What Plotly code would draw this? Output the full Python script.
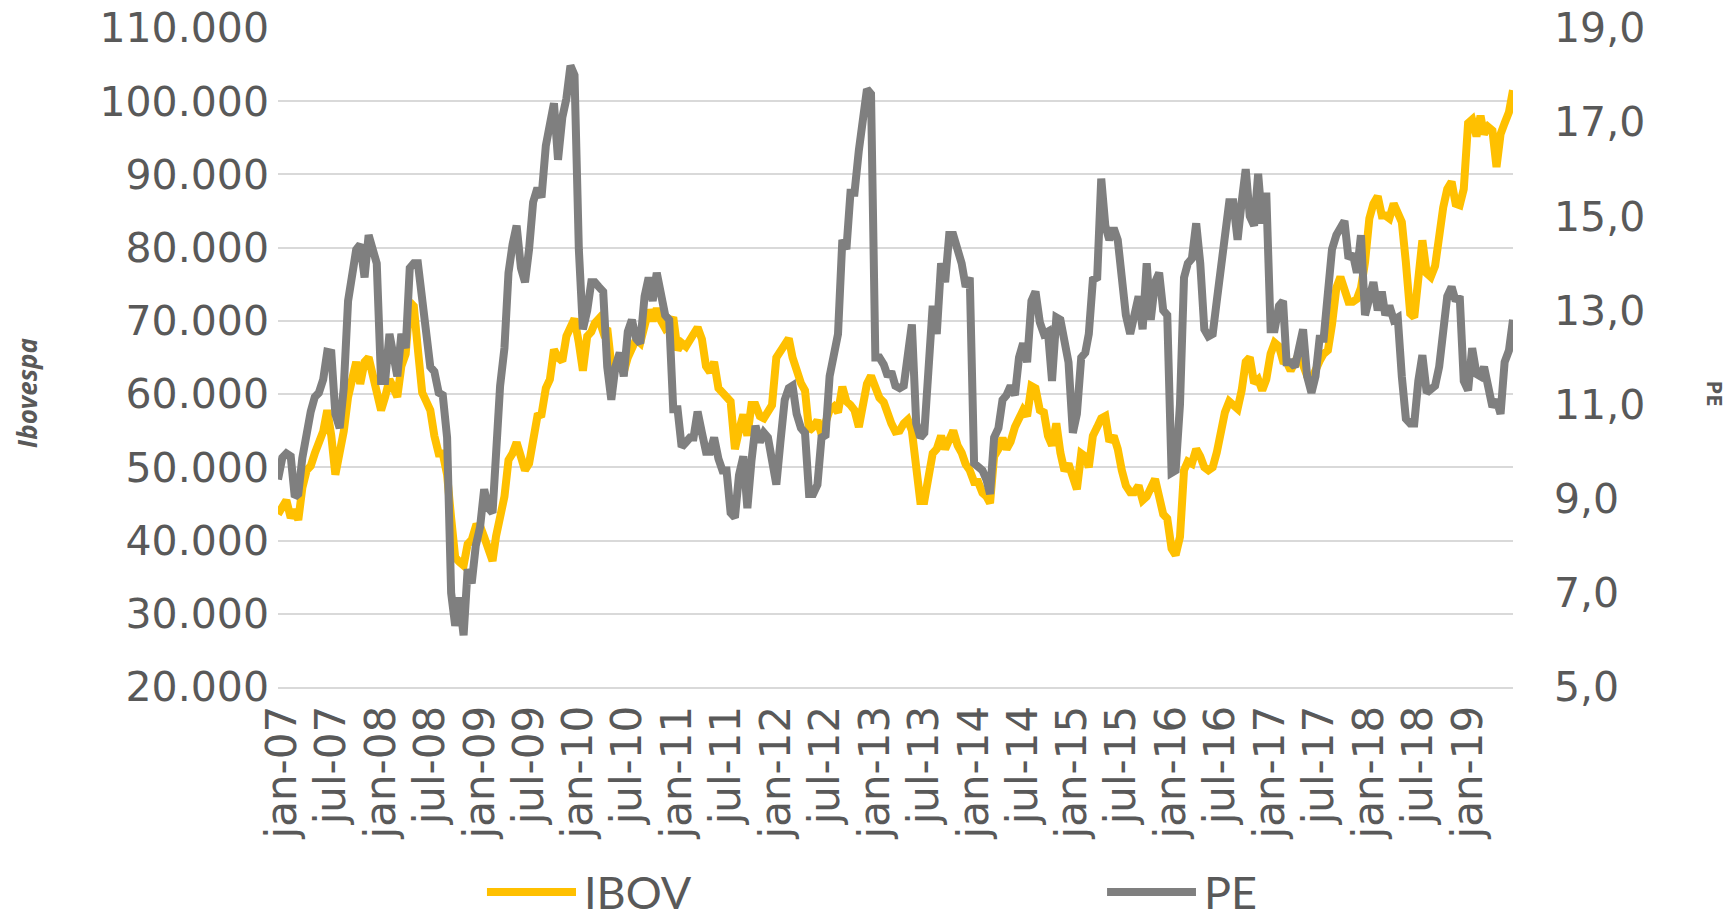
import plotly.graph_objects as go

# semi-monthly sample dates (1st and 16th of each month), Dec 2006 - Jun 2019
DATES = ["2006-12-16"] + [
    f"{y}-{m:02d}-{d:02d}" for y in range(2007, 2020) for m in range(1, 13) for d in (1, 16)
]
DATES = DATES[:301]

IBOV = [
    43.6, 44.8, 45.5, 43.1, 44.2, 42.8, 47.2, 49.6, 50.2, 51.9,
    53.4, 54.9, 57.8, 54.3, 49.0, 51.9, 54.9, 59.6, 62.6, 64.4,
    61.4, 64.4, 65.0, 62.6, 60.8, 57.8, 59.6, 62.0, 60.8, 59.6,
    63.8, 65.5, 72.6, 72.0, 66.1, 60.2, 59.0, 57.8, 54.3, 51.9,
    51.9, 49.0, 43.1, 37.7, 37.1, 36.6, 39.5, 40.1, 41.9, 42.0,
    40.5, 38.5, 37.2, 40.6, 43.6, 46.0, 51.0, 51.9, 53.4, 51.5,
    49.6, 50.5, 54.0, 57.0, 57.2, 60.8, 62.0, 66.1, 65.0, 64.5,
    67.9, 69.1, 70.3, 67.0, 63.2, 67.9, 68.5, 69.7, 70.3, 68.5,
    69.0, 64.0, 63.5, 64.0, 63.0, 65.0, 66.0, 67.5, 67.0, 69.0,
    71.5, 70.0, 71.7, 70.0, 69.0, 69.5, 70.5, 66.0, 67.0, 66.5,
    67.5, 68.5, 69.1, 67.5, 63.8, 63.0, 64.4, 60.8, 60.0, 59.6,
    59.0, 52.5, 55.0, 57.2, 54.3, 58.5, 58.5, 57.0, 56.7, 57.5,
    58.5, 65.0, 66.0, 67.0, 67.6, 65.0, 63.0, 61.5, 60.5, 55.0,
    55.5, 56.4, 54.5, 56.0, 57.8, 58.3, 57.5, 61.0, 59.0, 58.5,
    57.8, 55.5, 58.4, 61.4, 62.5, 61.0, 59.5, 58.9, 57.0, 56.0,
    54.9, 55.0, 56.0, 56.5, 55.0, 49.6, 45.4, 45.4, 48.0, 51.9,
    52.5, 54.3, 52.5, 54.0, 55.0, 53.0, 52.0, 50.4, 49.6, 48.0,
    48.0, 46.5, 46.0, 45.1, 51.5, 52.5, 54.0, 52.5, 53.5, 55.5,
    56.5, 57.8, 57.0, 61.1, 60.8, 57.8, 57.5, 54.3, 53.0, 56.0,
    52.0, 49.5, 50.5, 48.5, 47.0, 51.9, 51.5, 50.0, 54.3, 55.5,
    56.7, 57.0, 53.5, 54.3, 52.5, 49.6, 47.5, 46.6, 46.6, 47.5,
    45.5, 46.0, 47.0, 48.4, 46.0, 43.6, 43.0, 38.9, 38.0, 40.5,
    49.6, 50.8, 50.5, 52.5, 51.5, 50.0, 49.6, 50.0, 52.0, 55.0,
    57.5, 59.0, 58.5, 58.0, 60.5, 64.4, 65.0, 61.5, 62.0, 60.5,
    62.0, 65.5, 67.0, 66.5, 64.5, 64.4, 63.2, 64.5, 65.5, 64.0,
    62.5, 62.0, 63.5, 64.5, 65.5, 66.0, 69.5, 74.5, 76.0, 74.0,
    72.6, 72.6, 73.0, 74.5, 78.0, 84.0, 86.0, 87.0, 84.4, 84.4,
    84.0, 86.0, 84.5, 83.5, 78.0, 71.0, 70.5, 75.0, 81.0, 76.5,
    76.0, 77.5, 82.5, 85.5, 88.0, 89.0, 86.0, 85.8, 88.0, 97.0,
    97.5, 95.2, 98.0, 95.5, 96.5, 96.0, 91.0, 95.5, 97.0, 98.5,
    101.5,
]
IBOV = [v * 1000 for v in IBOV]  # values read in thousands of points

PE = [
    9.41, 9.87, 9.96, 9.9, 9.04, 9.1, 9.87, 10.5, 10.85, 11.16,
    11.25, 11.53, 12.12, 12.1, 10.8, 10.5, 11.35, 13.2, 13.8, 14.29,
    14.4, 13.7, 14.6, 14.2, 14.0, 11.5, 11.5, 12.5, 12.0, 11.6,
    12.5, 12.2, 13.9, 14.0, 14.0, 13.2, 12.5, 11.8, 11.7, 11.25,
    11.2, 10.3, 7.0, 6.3, 6.9, 6.1, 7.5, 7.2, 8.0, 8.4,
    9.2, 8.8, 8.7, 10.0, 11.4, 12.2, 13.8, 14.4, 14.8, 13.9,
    13.6, 14.3, 15.3, 15.6, 15.4, 16.5, 16.9, 17.4, 16.2, 17.1,
    17.5, 18.2, 18.0, 14.3, 12.6, 13.0, 13.6, 13.6, 13.5, 13.4,
    11.8, 11.1, 11.8, 12.1, 11.6, 12.55, 12.8, 12.4, 12.3, 13.3,
    13.7, 13.2, 13.8, 13.3, 12.9, 12.8, 10.9, 10.9, 10.1, 10.2,
    10.3, 10.3, 10.85, 10.4, 10.0, 10.0, 10.3, 9.85, 9.6, 9.6,
    8.7, 8.6, 9.5, 9.9, 8.8, 9.8, 10.55, 10.2, 10.4, 10.3,
    9.8, 9.3, 10.2, 11.1, 11.35, 11.4, 10.8, 10.5, 10.4, 9.1,
    9.1, 9.3, 10.3, 10.35, 11.6, 12.1, 12.5, 14.5, 14.3, 15.5,
    15.5, 16.4, 17.1, 17.7, 17.6, 12.0, 12.0, 11.85, 11.6, 11.7,
    11.4, 11.35, 11.4, 12.2, 12.7, 10.6, 10.3, 10.4, 12.1, 13.1,
    12.5, 14.0, 13.6, 14.6, 14.6, 14.3, 14.0, 13.5, 13.7, 9.75,
    9.7, 9.6, 9.4, 9.1, 10.3, 10.5, 11.1, 11.2, 11.4, 11.2,
    12.0, 12.3, 11.9, 13.2, 13.4, 12.75, 12.5, 12.55, 11.5, 12.85,
    12.8, 12.4, 11.9, 10.4, 10.8, 12.0, 12.1, 12.5, 13.65, 13.7,
    15.8, 14.8, 14.5, 14.75, 14.5, 13.7, 12.9, 12.5, 12.9, 13.3,
    12.6, 14.0, 12.8, 13.6, 13.8, 13.0, 12.9, 9.55, 9.6, 11.0,
    13.7, 14.0, 14.1, 14.85, 14.0, 12.6, 12.45, 12.5, 13.2, 13.8,
    14.6, 15.3, 15.3, 14.5, 15.3, 16.0, 15.0, 14.8, 15.9, 14.85,
    15.5, 12.6, 12.6, 13.1, 13.2, 11.9, 11.9, 11.8, 12.2, 12.6,
    11.6, 11.25, 11.6, 12.4, 12.4, 13.3, 14.3, 14.6, 14.8, 14.9,
    14.1, 14.2, 13.8, 14.6, 12.9, 13.3, 13.6, 13.0, 13.4, 12.9,
    13.1, 12.8, 12.85, 11.6, 10.7, 10.6, 10.6, 11.5, 12.05, 11.25,
    11.3, 11.4, 11.8, 12.6, 13.3, 13.5, 13.2, 13.3, 11.5, 11.3,
    12.2, 11.65, 11.6, 11.8, 11.4, 10.95, 11.1, 10.8, 11.9, 12.15,
    12.8,
]

TICK_DATES = [f"{y}-{m:02d}-01" for y in range(2007, 2020) for m in (1, 7)][:25]
TICK_LABELS = [f"{'jan' if m == 1 else 'jul'}-{y % 100:02d}" for y in range(2007, 2020) for m in (1, 7)][:25]

GOLD = "#FFC000"
GREY = "#7F7F7F"
TEXT = "#595959"
GRID = "#D9D9D9"

fig = go.Figure()
fig.add_trace(go.Scatter(x=DATES, y=IBOV, name="IBOV", mode="lines",
                         line=dict(color=GOLD, width=8), yaxis="y"))
fig.add_trace(go.Scatter(x=DATES, y=PE, name="PE", mode="lines",
                         line=dict(color=GREY, width=8), yaxis="y2"))

# the page body adds an 8px margin, so the figure is sized to end at the window edge
fig.update_layout(
    width=1728, height=910,
    margin=dict(l=270, r=223, t=20, b=231),
    paper_bgcolor="white", plot_bgcolor="white",
    separators=",.",
    showlegend=False,
    font=dict(family="DejaVu Sans", color=TEXT),
    xaxis=dict(
        type="date", range=[DATES[0], DATES[-1]],
        tickmode="array", tickvals=TICK_DATES, ticktext=TICK_LABELS,
        tickangle=-90, tickfont=dict(size=42, color=TEXT, family="DejaVu Sans"),
        showgrid=False, showline=True, linecolor=GRID, linewidth=2,
        ticks="", zeroline=False, automargin=False,
    ),
    yaxis=dict(
        range=[20000, 110000], dtick=10000, tick0=20000, tickformat=",d",
        tickfont=dict(size=41, color=TEXT, family="DejaVu Sans"),
        showgrid=True, gridcolor=GRID, gridwidth=2, zeroline=False,
        ticks="", ticklabelstandoff=8, ticklabeloverflow="allow", automargin=False,
    ),
    yaxis2=dict(
        range=[5, 19], dtick=2, tick0=5, tickformat=".1f",
        tickfont=dict(size=41, color=TEXT, family="DejaVu Sans"),
        overlaying="y", side="right", showgrid=False, zeroline=False,
        ticks="", ticklabelstandoff=40, ticklabeloverflow="allow", automargin=False,
    ),
)

# axis titles
fig.add_annotation(text="<b><i>Ibovespa</i></b>", xref="paper", yref="paper",
                   x=-0.2032, y=0.446, xanchor="center", yanchor="middle",
                   textangle=-90, showarrow=False, borderpad=0,
                   font=dict(family="Open Sans", size=26, color=TEXT))
fig.add_annotation(text="<b>PE</b>", xref="paper", yref="paper",
                   x=1.164, y=0.446, xanchor="center", yanchor="middle",
                   textangle=90, showarrow=False, borderpad=0,
                   font=dict(family="Open Sans", size=22, color=TEXT))

# legend drawn below the chart
for x0, x1, color, label in [(0.1692, 0.2413, GOLD, "IBOV"), (0.6713, 0.7433, GREY, "PE")]:
    fig.add_shape(type="line", xref="paper", yref="paper", x0=x0, x1=x1,
                  y0=-0.311, y1=-0.311, line=dict(color=color, width=8))
    fig.add_annotation(text=label, xref="paper", yref="paper", x=x1 + 0.006, y=-0.311,
                       xanchor="left", yanchor="middle", showarrow=False, borderpad=0,
                       font=dict(family="Lato", size=45, color=TEXT))

fig.write_html("out.html")
